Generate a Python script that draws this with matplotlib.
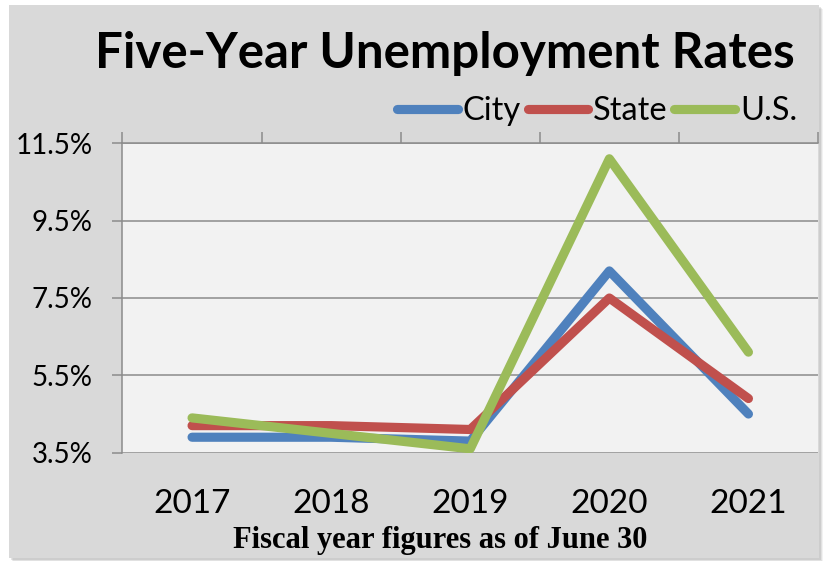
import matplotlib
matplotlib.use("Agg")
import matplotlib.pyplot as plt
from matplotlib.patches import Rectangle

years = ["2017", "2018", "2019", "2020", "2021"]
city = [3.9, 3.9, 3.8, 8.2, 4.5]
state = [4.2, 4.2, 4.1, 7.5, 4.9]
us = [4.4, 4.0, 3.6, 11.1, 6.1]
yticks = [3.5, 5.5, 7.5, 9.5, 11.5]
ytick_labels = ["3.5%", "5.5%", "7.5%", "9.5%", "11.5%"]

W, H = 828, 561
fig = plt.figure(figsize=(W / 100, H / 100), dpi=100)
fig.patch.set_facecolor("white")

# shadow + chart area
for i, a in enumerate([0.10, 0.14, 0.20]):
    off = 4 - i
    fig.patches.append(Rectangle(((9 + off) / W, 1 - (558 + off) / H), 810 / W, 553 / H,
                                 transform=fig.transFigure, facecolor="#808080",
                                 edgecolor="none", alpha=a, zorder=0))
fig.patches.append(Rectangle((9 / W, 1 - 558 / H), 810 / W, 553 / H,
                             transform=fig.transFigure, facecolor="#D9D9D9",
                             edgecolor="none", zorder=1))

ax = fig.add_axes([122.5 / W, 1 - 452.7 / H, (818 - 122.5) / W, (452.7 - 143.3) / H])
ax.set_facecolor("#F2F2F2")
ax.set_zorder(2)

x = list(range(len(years)))
lw = 6.6
kw = dict(lw=lw, solid_capstyle="round", solid_joinstyle="round")
ax.plot(x, city, color="#4F81BD", label="City", **kw)
ax.plot(x, state, color="#C0504D", label="State", **kw)
ax.plot(x, us, color="#9BBB59", label="U.S.", **kw)

ax.set_xlim(-0.5, len(years) - 0.5)
ax.set_ylim(yticks[0], yticks[-1])
ax.set_yticks(yticks)
ax.set_yticklabels(ytick_labels)
ax.yaxis.grid(True, color="#8C8C8C", lw=1.1)
ax.set_axisbelow(True)

for s in ["right", "bottom"]:
    ax.spines[s].set_visible(False)
for s in ["left", "top"]:
    ax.spines[s].set_color("#8C8C8C")
    ax.spines[s].set_linewidth(1.1)

ax.set_xticks([i - 0.5 for i in range(len(years) + 1)])
ax.set_xticks(x, minor=True)
ax.set_xticklabels(years, minor=True, fontsize=24, fontfamily="Lato")
ax.tick_params(axis="x", which="major", top=True, bottom=False, labeltop=False,
               labelbottom=False, length=8, width=1.1, color="#8C8C8C", direction="out")
ax.tick_params(axis="x", which="minor", top=False, bottom=True, length=0,
               labelbottom=True, pad=26)
ax.tick_params(axis="y", length=7, width=1.1, color="#8C8C8C", pad=14.5,
               labelsize=20)
for t in ax.get_yticklabels():
    t.set_fontfamily("Lato")

fig.text(795 / W, 1 - 68 / H, "Five-Year Unemployment Rates", ha="right", va="baseline",
         fontsize=35.5, fontweight="bold", fontfamily="Lato", zorder=5)

leg = fig.legend(loc="center right", bbox_to_anchor=(797 / W, 1 - 111 / H), ncol=3,
                 frameon=False, handlelength=1.85, handletextpad=0.16,
                 columnspacing=0.2, borderpad=0, borderaxespad=0,
                 prop={"family": "Lato", "size": 23.5})
for h in leg.legend_handles:
    h.set_solid_capstyle("round")

fig.text(440 / W, 1 - 548 / H, "Fiscal year figures as of June 30", ha="center",
         va="baseline", fontsize=22, fontweight="bold", fontfamily="Liberation Serif",
         zorder=5)

fig.savefig("out.png", dpi=100)
